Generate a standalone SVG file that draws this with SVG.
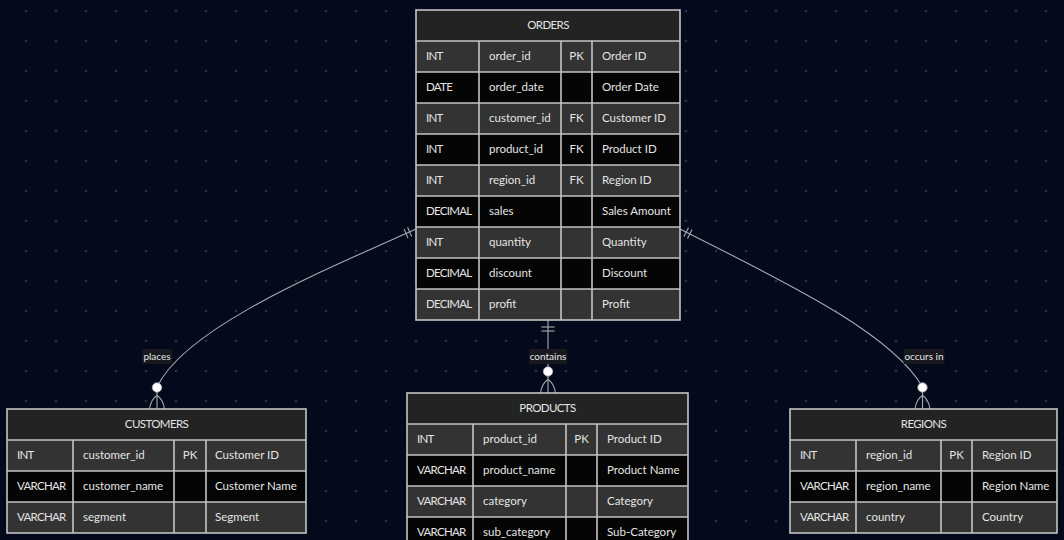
<svg xmlns="http://www.w3.org/2000/svg" width="1064" height="540" viewBox="0 0 1064 540">
<defs>
<pattern id="dots" x="11" y="-4" width="30" height="30" patternUnits="userSpaceOnUse">
<circle cx="15" cy="15" r="1.3" fill="#2a2f3e"/>
</pattern>
<style>
.hdr{fill:#222322}
.odd{fill:#323332}
.even{fill:#050505}
.frame{fill:none;stroke:#c4c4c4;stroke-width:1.6}
.ln{stroke:#c4c4c4;stroke-width:1.6}
.t{font-family:Lato,"Liberation Sans",sans-serif;font-size:11.5px;fill:#e4e4e4;dominant-baseline:central}
.ty{letter-spacing:-0.7px}
.h{letter-spacing:-0.6px}
.c{text-anchor:middle}
.edge{fill:none;stroke:#a9abb0;stroke-width:1.1}
.mk{fill:none;stroke:#a9abb0;stroke-width:1.1}
.dot{fill:#ffffff;stroke:#a9abb0;stroke-width:0.8}
.lblbg{fill:#17191f}
.lbl{font-family:Lato,"Liberation Sans",sans-serif;font-size:10px;fill:#e6e6e6;text-anchor:middle;dominant-baseline:central}
</style>
</defs>
<rect width="1064" height="540" fill="#040a1c"/>
<rect width="1064" height="540" fill="url(#dots)"/>

<g id="connectors">
<path class="edge" d="M416,229 C320,272 185,328 157,387 L157,409"/>
<line class="mk" x1="407.6" y1="227.3" x2="411.6" y2="236.5"/>
<line class="mk" x1="404" y1="228.9" x2="408" y2="238.1"/>
<circle class="dot" cx="157" cy="387.5" r="4.7"/>
<path class="mk" d="M149.5,409 Q151,399 157,395.5 Q163,399 164.5,409"/>

<path class="edge" d="M548,320 L548,393"/>
<line class="mk" x1="541.5" y1="327" x2="554.5" y2="327"/>
<line class="mk" x1="541.5" y1="331" x2="554.5" y2="331"/>
<circle class="dot" cx="548" cy="371.5" r="4.7"/>
<path class="mk" d="M540.5,393 Q542,383 548,379.5 Q554,383 555.5,393"/>

<path class="edge" d="M680,229 C770,275 890,330 922.5,387 L922.5,409"/>
<line class="mk" x1="688.5" y1="227.7" x2="683.9" y2="236.6"/>
<line class="mk" x1="692.1" y1="229.5" x2="687.5" y2="238.4"/>
<circle class="dot" cx="922.5" cy="387.5" r="4.7"/>
<path class="mk" d="M915,409 Q916.5,399 922.5,395.5 Q928.5,399 930,409"/>

<rect class="lblbg" x="142" y="349" width="30" height="15"/>
<text class="lbl" x="157" y="356">places</text>
<rect class="lblbg" x="529" y="349" width="38" height="15"/>
<text class="lbl" x="548" y="356">contains</text>
<rect class="lblbg" x="903.5" y="349" width="41" height="15"/>
<text class="lbl" x="924" y="356">occurs in</text>
</g>

<g id="orders">
<rect class="hdr" x="416" y="10" width="264" height="31"/>
<rect class="odd" x="416" y="41" width="264" height="31"/>
<rect class="even" x="416" y="72" width="264" height="31"/>
<rect class="odd" x="416" y="103" width="264" height="31"/>
<rect class="even" x="416" y="134" width="264" height="31"/>
<rect class="odd" x="416" y="165" width="264" height="31"/>
<rect class="even" x="416" y="196" width="264" height="31"/>
<rect class="odd" x="416" y="227" width="264" height="31"/>
<rect class="even" x="416" y="258" width="264" height="31"/>
<rect class="odd" x="416" y="289" width="264" height="31"/>
<path class="ln" d="M416,41H680M416,72H680M416,103H680M416,134H680M416,165H680M416,196H680M416,227H680M416,258H680M416,289H680M479,41V320M561,41V320M592,41V320"/>
<rect class="frame" x="416" y="10" width="264" height="310"/>
<g transform="translate(0,-1)">
<text class="t c h" x="548" y="25.5">ORDERS</text>
<text class="t ty" x="426" y="56.5">INT</text><text class="t" x="489" y="56.5">order_id</text><text class="t c" x="576.5" y="56.5">PK</text><text class="t" x="602" y="56.5">Order ID</text>
<text class="t ty" x="426" y="87.5">DATE</text><text class="t" x="489" y="87.5">order_date</text><text class="t" x="602" y="87.5">Order Date</text>
<text class="t ty" x="426" y="118.5">INT</text><text class="t" x="489" y="118.5">customer_id</text><text class="t c" x="576.5" y="118.5">FK</text><text class="t" x="602" y="118.5">Customer ID</text>
<text class="t ty" x="426" y="149.5">INT</text><text class="t" x="489" y="149.5">product_id</text><text class="t c" x="576.5" y="149.5">FK</text><text class="t" x="602" y="149.5">Product ID</text>
<text class="t ty" x="426" y="180.5">INT</text><text class="t" x="489" y="180.5">region_id</text><text class="t c" x="576.5" y="180.5">FK</text><text class="t" x="602" y="180.5">Region ID</text>
<text class="t ty" x="426" y="211.5">DECIMAL</text><text class="t" x="489" y="211.5">sales</text><text class="t" x="602" y="211.5">Sales Amount</text>
<text class="t ty" x="426" y="242.5">INT</text><text class="t" x="489" y="242.5">quantity</text><text class="t" x="602" y="242.5">Quantity</text>
<text class="t ty" x="426" y="273.5">DECIMAL</text><text class="t" x="489" y="273.5">discount</text><text class="t" x="602" y="273.5">Discount</text>
<text class="t ty" x="426" y="304.5">DECIMAL</text><text class="t" x="489" y="304.5">profit</text><text class="t" x="602" y="304.5">Profit</text>
</g>
</g>

<g id="customers">
<rect class="hdr" x="7" y="409" width="299" height="31"/>
<rect class="odd" x="7" y="440" width="299" height="31"/>
<rect class="even" x="7" y="471" width="299" height="31"/>
<rect class="odd" x="7" y="502" width="299" height="31"/>
<path class="ln" d="M7,440H306M7,471H306M7,502H306M73,440V533M174,440V533M206,440V533"/>
<rect class="frame" x="7" y="409" width="299" height="124"/>
<g transform="translate(0,-1)">
<text class="t c h" x="156.5" y="424.5">CUSTOMERS</text>
<text class="t ty" x="17" y="455.5">INT</text><text class="t" x="83" y="455.5">customer_id</text><text class="t c" x="190" y="455.5">PK</text><text class="t" x="215" y="455.5">Customer ID</text>
<text class="t ty" x="17" y="486.5">VARCHAR</text><text class="t" x="83" y="486.5">customer_name</text><text class="t" x="215" y="486.5">Customer Name</text>
<text class="t ty" x="17" y="517.5">VARCHAR</text><text class="t" x="83" y="517.5">segment</text><text class="t" x="215" y="517.5">Segment</text>
</g>
</g>

<g id="products">
<rect class="hdr" x="407" y="393" width="281" height="31"/>
<rect class="odd" x="407" y="424" width="281" height="31"/>
<rect class="even" x="407" y="455" width="281" height="31"/>
<rect class="odd" x="407" y="486" width="281" height="31"/>
<rect class="even" x="407" y="517" width="281" height="31"/>
<path class="ln" d="M407,424H688M407,455H688M407,486H688M407,517H688M473,424V548M566,424V548M597,424V548"/>
<rect class="frame" x="407" y="393" width="281" height="155"/>
<g transform="translate(0,-1)">
<text class="t c h" x="547.5" y="408.5">PRODUCTS</text>
<text class="t ty" x="417" y="439.5">INT</text><text class="t" x="483" y="439.5">product_id</text><text class="t c" x="581.5" y="439.5">PK</text><text class="t" x="607" y="439.5">Product ID</text>
<text class="t ty" x="417" y="470.5">VARCHAR</text><text class="t" x="483" y="470.5">product_name</text><text class="t" x="607" y="470.5">Product Name</text>
<text class="t ty" x="417" y="501.5">VARCHAR</text><text class="t" x="483" y="501.5">category</text><text class="t" x="607" y="501.5">Category</text>
<text class="t ty" x="417" y="532.5">VARCHAR</text><text class="t" x="483" y="532.5">sub_category</text><text class="t" x="607" y="532.5">Sub-Category</text>
</g>
</g>

<g id="regions">
<rect class="hdr" x="790" y="409" width="267" height="31"/>
<rect class="odd" x="790" y="440" width="267" height="31"/>
<rect class="even" x="790" y="471" width="267" height="31"/>
<rect class="odd" x="790" y="502" width="267" height="31"/>
<path class="ln" d="M790,440H1057M790,471H1057M790,502H1057M856,440V533M941,440V533M972,440V533"/>
<rect class="frame" x="790" y="409" width="267" height="124"/>
<g transform="translate(0,-1)">
<text class="t c h" x="923.5" y="424.5">REGIONS</text>
<text class="t ty" x="800" y="455.5">INT</text><text class="t" x="866" y="455.5">region_id</text><text class="t c" x="956.5" y="455.5">PK</text><text class="t" x="982" y="455.5">Region ID</text>
<text class="t ty" x="800" y="486.5">VARCHAR</text><text class="t" x="866" y="486.5">region_name</text><text class="t" x="982" y="486.5">Region Name</text>
<text class="t ty" x="800" y="517.5">VARCHAR</text><text class="t" x="866" y="517.5">country</text><text class="t" x="982" y="517.5">Country</text>
</g>
</g>
</svg>
